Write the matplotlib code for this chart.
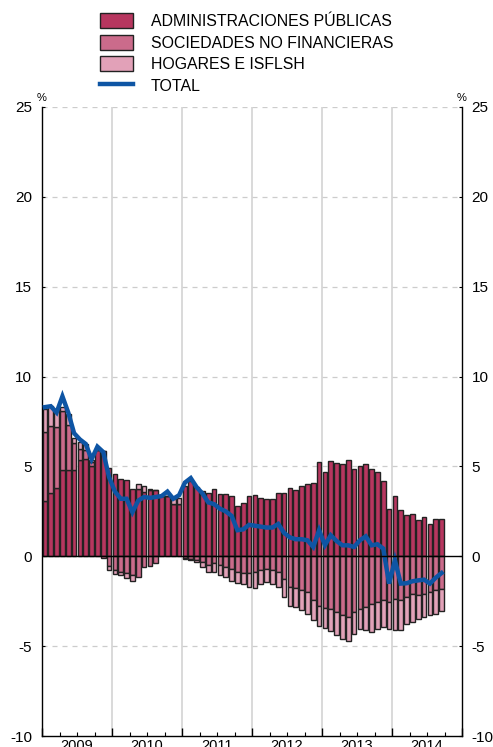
import numpy as np
import matplotlib
matplotlib.use('Agg')
import matplotlib.pyplot as plt
from matplotlib.patches import Patch
from matplotlib.lines import Line2D

plt.rcParams['font.family'] = ['Liberation Sans', 'DejaVu Sans']
plt.rcParams['axes.unicode_minus'] = False

# monthly data, Jan 2009 - Sep 2014 (% contribution)
years = ['2009', '2010', '2011', '2012', '2013', '2014']

aapp = [3.1, 3.5, 3.8, 4.8, 4.8, 4.8, 5.35, 5.4, 5.05, 5.9, 5.85, 4.9,
        4.6, 4.3, 4.27, 3.73, 3.75, 3.6, 3.7, 3.67, 3.34, 3.34, 2.93, 2.93,
        3.9, 4.2, 3.88, 3.65, 3.54, 3.73, 3.49, 3.49, 3.36, 2.8, 2.97, 3.34,
        3.41, 3.27, 3.21, 3.21, 3.54, 3.54, 3.8, 3.7, 3.92, 4.0, 4.06, 5.23,
        4.69, 5.3, 5.21, 5.14, 5.36, 4.88, 5.05, 5.12, 4.83, 4.69, 4.19, 2.65,
        3.36, 2.6, 2.28, 2.34, 2.04, 2.19, 1.82, 2.06, 2.06]

snf = [3.8, 3.75, 3.4, 3.3, 2.5, 1.5, 0.6, 0.5, 0.2, 0.0, -0.1, -0.55,
       -0.75, -0.85, -0.95, -1.05, -1.15, -0.6, -0.55, -0.4, 0.0, 0.0, 0.0, 0.0,
       -0.1, -0.17, -0.22, -0.31, -0.5, -0.4, -0.5, -0.59, -0.69, -0.87, -0.93, -0.93,
       -0.87, -0.78, -0.72, -0.78, -0.87, -1.28, -1.71, -1.74, -1.9, -2.0, -2.45, -2.75,
       -2.85, -2.95, -3.1, -3.28, -3.38, -3.1, -2.91, -2.82, -2.64, -2.54, -2.45, -2.54,
       -2.36, -2.45, -2.26, -2.08, -2.17, -2.08, -1.99, -1.89, -1.84]

hogares = [1.3, 1.1, 1.0, 0.2, 0.6, 0.3, 0.4, 0.35, 0.1, 0.0, 0.0, -0.2,
           -0.25, -0.2, -0.25, -0.3, 0.25, 0.3, 0.05, 0.0, 0.0, 0.0, 0.28, 0.3,
           -0.03, -0.05, -0.08, -0.29, -0.37, -0.45, -0.52, -0.56, -0.68, -0.6, -0.63, -0.78,
           -0.88, -0.78, -0.71, -0.74, -0.84, -0.98, -1.05, -1.08, -1.1, -1.2, -1.1, -1.15,
           -1.15, -1.23, -1.3, -1.34, -1.33, -1.21, -1.12, -1.3, -1.57, -1.49, -1.48, -1.49,
           -1.72, -1.67, -1.49, -1.58, -1.3, -1.3, -1.29, -1.3, -1.2]

total = [8.3, 8.35, 8.0, 8.9, 8.0, 6.85, 6.5, 6.25, 5.4, 6.1, 5.8, 4.4,
         3.6, 3.2, 3.2, 2.45, 3.1, 3.3, 3.25, 3.3, 3.35, 3.6, 3.2, 3.4,
         4.1, 4.35, 3.85, 3.5, 3.0, 2.9, 2.65, 2.5, 2.25, 1.45, 1.5, 1.75,
         1.7, 1.65, 1.6, 1.6, 1.8, 1.3, 1.05, 0.95, 0.95, 0.89, 0.52, 1.45,
         0.62, 1.17, 0.85, 0.61, 0.61, 0.52, 0.89, 1.11, 0.61, 0.67, 0.43, -1.52,
         -0.22, -1.52, -1.5, -1.39, -1.34, -1.3, -1.52, -1.19, -0.93]

labels = ['ADMINISTRACIONES PÚBLICAS', 'SOCIEDADES NO FINANCIERAS',
          'HOGARES E ISFLSH', 'TOTAL']
colors = ['#B7365F', '#CB6B8B', '#E2A1B8']
line_color = '#0E55A4'
edge = '#222222'

W, H = 493, 747
fig = plt.figure(figsize=(W / 100, H / 100), dpi=100)
ax = fig.add_axes([42 / W, 1 - 736 / H, 420 / W, 629 / H])

x = np.arange(len(aapp))
pos = np.zeros(len(x))
neg = np.zeros(len(x))
for vals, c in zip([aapp, snf, hogares], colors):
    v = np.array(vals)
    bottom = np.where(v >= 0, pos, neg)
    ax.bar(x, v, bottom=bottom, width=0.82, color=c, edgecolor=edge,
           linewidth=1.0, zorder=2)
    pos = np.where(v >= 0, pos + v, pos)
    neg = np.where(v < 0, neg + v, neg)

ax.plot(x, total, color=line_color, lw=3.2, zorder=4, solid_joinstyle='miter')

ax.set_xlim(-0.5, 71.5)
ax.set_ylim(-10, 25)

# grid: dashed horizontals, solid year separators
for yv in [-5, 5, 10, 15, 20, 25]:
    ax.axhline(yv, color='#cccccc', lw=0.9, ls=(0, (4, 4)), zorder=0)
for k in range(1, 6):
    ax.axvline(12 * k - 0.5, color='#cfcfcf', lw=1.1, zorder=0)
ax.axhline(0, color='black', lw=1.0, zorder=5)

ax.spines['top'].set_visible(False)
for s in ['left', 'right', 'bottom']:
    ax.spines[s].set_linewidth(1.0)

ax.set_yticks(np.arange(-10, 26, 5))
ax.tick_params(axis='y', direction='in', length=2, width=0.8,
               left=True, right=True, labelleft=True, labelright=True,
               labelsize=11, pad=7)
ax.set_xticks(np.arange(-0.5, 72, 12))
ax.set_xticks(np.arange(-0.5, 72, 3), minor=True)
ax.tick_params(axis='x', which='major', direction='in', length=5.5,
               width=1.0, labelbottom=False)
ax.tick_params(axis='x', which='minor', direction='in', length=3,
               width=0.8)

for k, yr in enumerate(years):
    ax.annotate(yr, xy=(12 * k + 5.5, 0), xycoords=('data', 'axes fraction'),
                xytext=(0, -2.5), textcoords='offset points',
                ha='center', va='top', fontsize=10.5)

ax.annotate('%', xy=(0, 1), xycoords='axes fraction', xytext=(0, 3),
            textcoords='offset points', ha='center', va='bottom', fontsize=8)
ax.annotate('%', xy=(1, 1), xycoords='axes fraction', xytext=(0, 3),
            textcoords='offset points', ha='center', va='bottom', fontsize=8)

handles = [Patch(facecolor=c, edgecolor=edge, linewidth=1.0) for c in colors]
handles.append(Line2D([], [], color=line_color, lw=3.2))
fig.legend(handles, labels, loc='upper left',
           bbox_to_anchor=(100 / W, 1 - 13 / H), frameon=False,
           fontsize=11.4, borderpad=0, borderaxespad=0,
           handlelength=2.1, handleheight=1.1, handletextpad=1.1,
           labelspacing=0.35)

fig.savefig('out.png', dpi=100)
